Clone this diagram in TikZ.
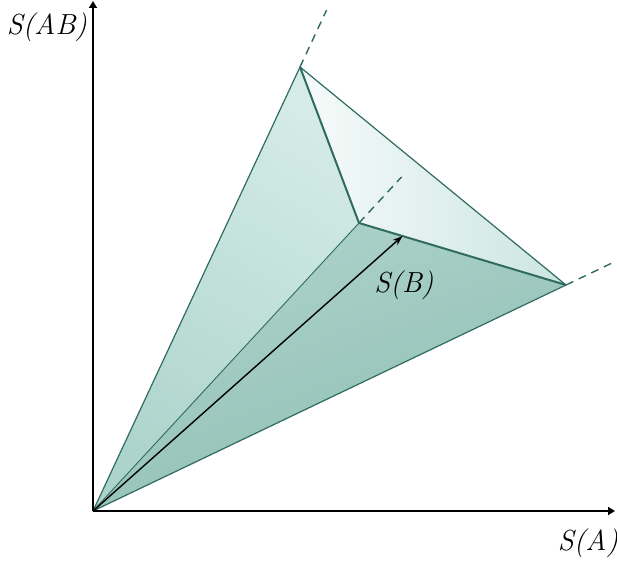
\documentclass[tikz,border=0pt]{standalone}
\usetikzlibrary{arrows.meta,calc}
\definecolor{tealedge}{HTML}{2F6B5F}
\definecolor{sideA}{HTML}{D4EBE6}
\definecolor{sideB}{HTML}{ADD4CC}
\definecolor{baseA}{HTML}{ADD3CB}
\definecolor{baseB}{HTML}{8FBEB3}
\definecolor{capA}{HTML}{F6FBFA}
\definecolor{capB}{HTML}{CBE5E0}
\tikzset{
  axisarr/.style={-{Triangle[length=7pt,width=8pt]}, line width=1.8pt},
  rim/.style={draw=tealedge, line width=1.2pt, line join=round},
  ridge/.style={draw=tealedge, line width=2pt, line join=round},
  ray/.style={draw=tealedge, dash pattern=on 8pt off 6pt, line width=1.4pt},
  vec/.style={-{Stealth[length=10pt,width=7pt]}, line width=1.4pt},
  lbl/.style={font=\itshape\fontsize{29}{32}\selectfont, inner sep=0pt}}

\begin{document}
\begin{tikzpicture}[x=1pt, y=-1pt]
  \useasboundingbox (0,0) rectangle (617,564);
  % corners of the cone
  \coordinate (O) at (93,511);
  \coordinate (T) at (300,67);
  \coordinate (C) at (359,223);
  \coordinate (R) at (566,285);
  \coordinate (P) at ($(C)!0.21!(R)$);
  \coordinate (ytip) at (93,1);
  \coordinate (xtip) at (615,511);
  % faces
  \shade[left color=sideA, right color=sideB, shading angle=-30] (O) -- (T) -- (C) -- cycle;
  \shade[top color=baseA, bottom color=baseB, shading angle=20] (O) -- (C) -- (R) -- cycle;
  \shade[left color=capA, right color=capB] (T) -- (R) -- (C) -- cycle;
  % edges
  \draw[rim] (O) -- (T) -- (R) -- cycle;
  \draw[tealedge, line width=0.9pt] (O) -- (C);
  \draw[ridge] (T) -- (C) -- (R);
  \draw[ray] (T) -- ($(O)!1.128!(T)$);
  \draw[ray] (C) -- ($(O)!1.16!(C)$);
  \draw[ray] (R) -- ($(O)!1.106!(R)$);
  \draw[vec] (O) -- (P);
  % axes
  \draw[axisarr] (O) -- (ytip);
  \draw[axisarr] (O) -- (xtip);
  \node[lbl] (sab) at (47,27) {S(AB)};
  \node[lbl] (sa) at (588,543) {S(A)};
  \node[lbl] (sb) at (404,285) {S(B)};
\end{tikzpicture}
\end{document}
